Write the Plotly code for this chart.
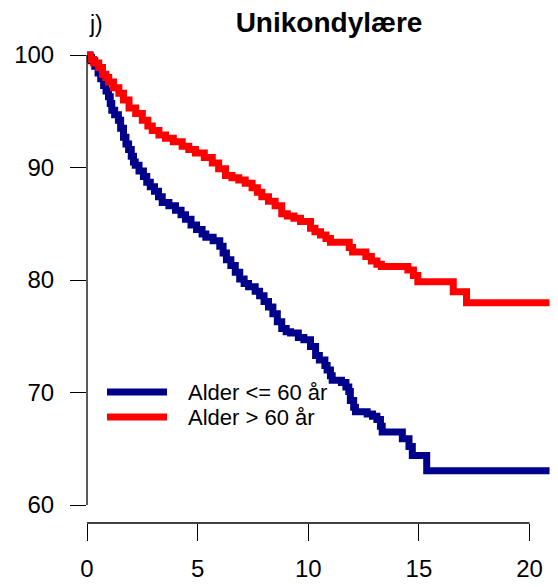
import plotly.graph_objects as go

# Kaplan-Meier estimates, prosthesis survival (%) by age group
time_young = [0, 0.1, 0.2, 0.35, 0.5, 0.62, 0.75, 0.86, 0.97, 1.05, 1.12, 1.25, 1.42, 1.52,
              1.65, 1.76, 1.88, 2.0, 2.1, 2.18, 2.35, 2.55, 2.7, 2.86, 3.05, 3.23, 3.4, 3.7,
              4.0, 4.25, 4.45, 4.7, 4.95, 5.2, 5.37, 5.7, 6.0, 6.15, 6.3, 6.5, 6.7, 6.9, 7.1,
              7.3, 7.6, 7.8, 8.0, 8.2, 8.4, 8.6, 8.8, 9.0, 9.2, 9.55, 9.8, 10.1, 10.33, 10.5,
              10.75, 10.85, 11.0, 11.08, 11.5, 11.7, 11.83, 11.9, 12.05, 12.13, 12.66, 12.9,
              13.1, 13.26, 13.34, 14.25, 14.55, 14.7, 15.35, 20.9]
surv_young = [100, 99.8, 99.5, 99.0, 98.4, 97.9, 97.3, 96.8, 96.3, 95.7, 95.1, 94.7, 94.2, 93.5,
              92.7, 92.1, 91.6, 91.0, 90.5, 90.2, 89.7, 89.2, 88.7, 88.3, 87.9, 87.4, 86.9, 86.6,
              86.2, 85.8, 85.4, 84.9, 84.5, 84.1, 83.8, 83.5, 83.0, 82.4, 81.8, 81.3, 80.7, 80.1, 79.7,
              79.4, 79.0, 78.6, 78.1, 77.6, 77.0, 76.3, 75.7, 75.4, 75.3, 74.9, 74.7, 74.1, 73.3, 72.9,
              72.4, 72.0, 71.5, 71.1, 70.9, 70.5, 70.1, 69.3, 68.7, 68.3, 68.1, 67.9,
              67.6, 67.0, 66.5, 65.9, 65.2, 64.4, 63.05, 63.05]

time_old = [0, 0.15, 0.3, 0.53, 0.7, 0.85, 0.98, 1.2, 1.44, 1.65, 1.9, 2.2, 2.5, 2.75, 2.95,
            3.25, 3.55, 3.9, 4.3, 4.6, 4.9, 5.3, 5.66, 5.95, 6.26, 6.55, 6.86, 7.15, 7.46, 7.7,
            7.9, 8.2, 8.5, 8.8, 9.05, 9.35, 9.65, 10.1, 10.3, 10.55, 10.8, 11.0, 11.85, 12.0,
            12.6, 12.85, 13.1, 13.3, 14.5, 14.75, 14.95, 16.55, 17.15, 20.9]
surv_old = [100, 99.6, 99.3, 98.9, 98.3, 98.0, 97.6, 97.1, 96.6, 96.0, 95.3, 94.8, 94.2, 93.7, 93.3,
            92.9, 92.6, 92.3, 91.9, 91.6, 91.3, 90.9, 90.4, 89.9, 89.3, 89.1, 88.9, 88.6, 88.2, 87.8,
            87.4, 87.0, 86.6, 85.9, 85.7, 85.5, 85.2, 84.6, 84.3, 84.0, 83.7, 83.35, 82.9, 82.5,
            82.1, 81.7, 81.4, 81.2, 80.9, 80.4, 79.85, 78.96, 77.98, 77.98]

x_ticks = [0, 5, 10, 15, 20]
y_ticks = [60, 70, 80, 90, 100]
labels = ["Alder <= 60 år", "Alder > 60 år"]
colors = ["#00008B", "#FF0000"]

FONT = "Liberation Sans, Arial, Helvetica, sans-serif"
W, H = 558, 587
ML, MR, MT, MB = 87, 2, 37, 64
PW, PH = W - ML - MR, H - MT - MB


def px_x(p):
    return (p - ML) / PW


def px_y(p):
    return (H - MB - p) / PH


fig = go.Figure()
for t, s, name, c in zip([time_young, time_old], [surv_young, surv_old], labels, colors):
    fig.add_trace(go.Scatter(x=t, y=s, mode="lines", name=name,
                             line=dict(color=c, width=7, shape="hv"),
                             showlegend=False))

axis_common = dict(showgrid=False, zeroline=False, showline=False, ticks="outside",
                   tickcolor="black", tickwidth=1.3, mirror=False,
                   tickfont=dict(family=FONT, size=24, color="black"))

fig.update_xaxes(range=[0, PW / 22.13], tickvals=x_ticks, ticklen=17,
                 ticklabelstandoff=7, **axis_common)
fig.update_yaxes(range=[58.4, 101.6], tickvals=y_ticks, ticklen=16,
                 ticklabelstandoff=11, **axis_common)

# axis lines spanning first to last tick
fig.add_shape(type="line", xref="x", yref="paper", x0=x_ticks[0], x1=x_ticks[-1], y0=0, y1=0,
              line=dict(color="black", width=1.3))
fig.add_shape(type="line", xref="paper", yref="y", x0=0, x1=0, y0=y_ticks[0], y1=y_ticks[-1],
              line=dict(color="black", width=1.3))

# legend
for i, (name, c) in enumerate(zip(labels, colors)):
    yy = 392 + 25 * i
    fig.add_shape(type="line", xref="paper", yref="paper",
                  x0=px_x(107), x1=px_x(167), y0=px_y(yy), y1=px_y(yy),
                  line=dict(color=c, width=7))
    fig.add_annotation(text=name, xref="paper", yref="paper", x=px_x(186), y=px_y(yy),
                       xanchor="left", yanchor="middle", showarrow=False,
                       font=dict(family=FONT, size=22, color="black"))

fig.add_annotation(text="j)", xref="paper", yref="paper", x=px_x(87), y=px_y(24),
                   xanchor="left", yanchor="middle", showarrow=False,
                   font=dict(family=FONT, size=23, color="black"))

fig.update_layout(
    width=W, height=H,
    margin=dict(l=ML, r=MR, t=MT, b=MB, pad=0),
    paper_bgcolor="white", plot_bgcolor="white",
    title=dict(text="<b>Unikondylære</b>", x=px_x(329), xref="paper", xanchor="center",
               y=1 - 22 / H, yref="container", yanchor="middle",
               font=dict(family=FONT, size=28, color="black")),
)

fig.write_html("out.html")
